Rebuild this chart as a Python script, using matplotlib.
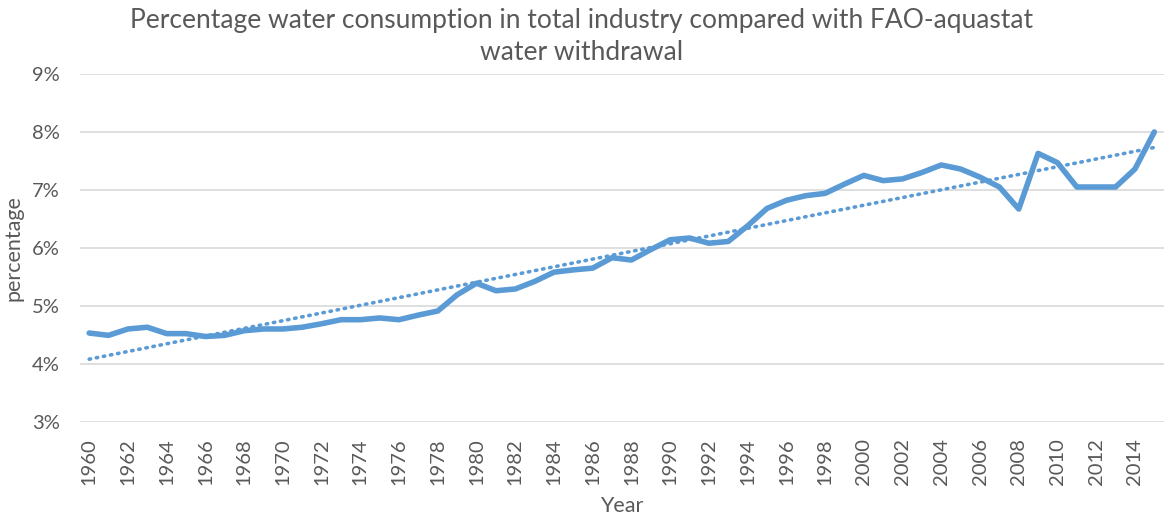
import matplotlib
matplotlib.use('Agg')
import matplotlib.pyplot as plt
import numpy as np

# Values (percent of withdrawal)
years = list(range(1960, 2016))
pct = [4.53, 4.49, 4.60, 4.63, 4.52, 4.52, 4.47, 4.49, 4.57, 4.60,
       4.60, 4.63, 4.69, 4.76, 4.76, 4.79, 4.76, 4.84, 4.91, 5.19,
       5.39, 5.26, 5.29, 5.42, 5.58, 5.62, 5.65, 5.83, 5.79, 5.97,
       6.14, 6.17, 6.08, 6.11, 6.38, 6.68, 6.82, 6.90, 6.94, 7.10,
       7.25, 7.16, 7.19, 7.30, 7.43, 7.36, 7.22, 7.05, 6.67, 7.63,
       7.47, 7.05, 7.05, 7.05, 7.36, 8.00]
yticks = [3, 4, 5, 6, 7, 8, 9]
xticks = list(range(1960, 2015, 2))

TITLE = ('Percentage water consumption in total industry compared with FAO-aquastat\n'
         'water withdrawal')
BLUE = '#5B9BD5'
GREY = '#595959'

plt.rcParams['font.family'] = ['Lato', 'DejaVu Sans']

fig = plt.figure(figsize=(11.64, 5.23), dpi=100)
ax = fig.add_axes([0.0683, 0.1937, 0.9317, 0.6648])

x = np.array(years)
y = np.array(pct)
ax.plot(x, y, color=BLUE, lw=4, solid_capstyle='round', solid_joinstyle='round', zorder=3)

# linear trendline, as Excel draws it
k, b = np.polyfit(x, y, 1)
ax.plot(x, k * x + b, color=BLUE, lw=2.6, linestyle=(0, (0.4, 1.6)),
        dash_capstyle='round', zorder=2)

ax.set_xlim(1959.5, 2015.5)
ax.set_ylim(3, 9)
ax.set_yticks(yticks)
ax.set_yticklabels(['%d%%' % v for v in yticks])
ax.set_xticks(xticks)
ax.set_xticklabels([str(v) for v in xticks], rotation=90)
ax.grid(axis='y', color='#D9D9D9', lw=1.2)
ax.set_axisbelow(True)
for s in ax.spines.values():
    s.set_visible(False)
ax.tick_params(length=0, colors=GREY, labelsize=14.5)
ax.tick_params(axis='x', pad=12)
ax.tick_params(axis='y', pad=14)

ax.set_xlabel('Year', color=GREY, fontsize=15.5, labelpad=8)
ax.set_ylabel('percentage', color=GREY, fontsize=15.5, labelpad=6)
fig.text(0.5, 0.985, TITLE, ha='center', va='top', color=GREY, fontsize=19,
         linespacing=1.35)

fig.savefig('out.png', dpi=100)
